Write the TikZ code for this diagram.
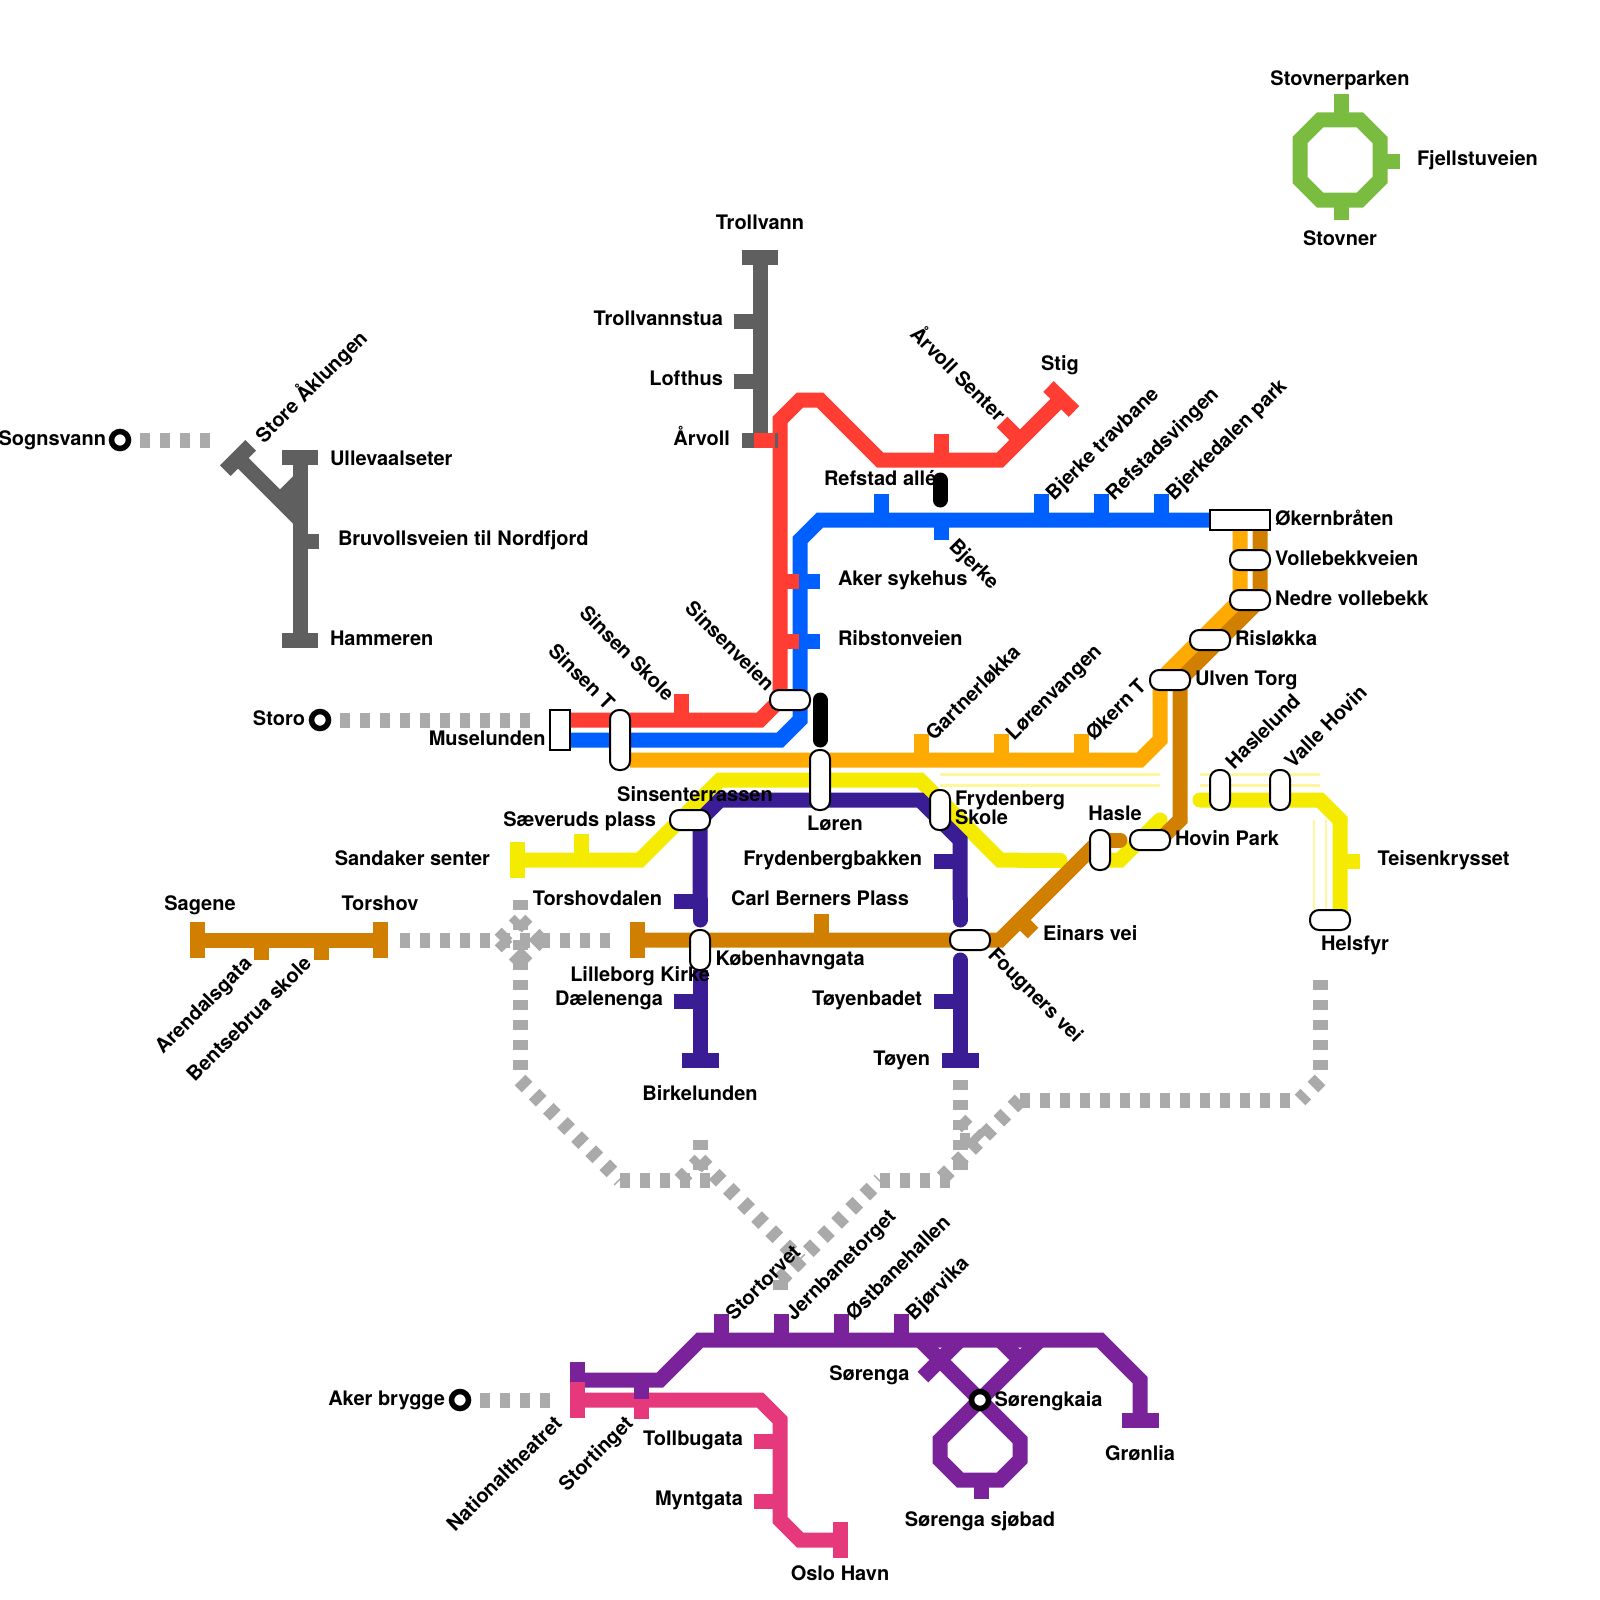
\documentclass[tikz,border=0pt]{standalone}
\usepackage{fontspec}
\setmainfont{TeX Gyre Heros}
\definecolor{lineRed}{RGB}{255,61,50}
\definecolor{lineBlue}{RGB}{0,96,255}
\definecolor{lineAmber}{RGB}{255,170,0}
\definecolor{lineBrown}{RGB}{209,127,0}
\definecolor{lineYellow}{RGB}{245,235,0}
\definecolor{linePale}{RGB}{255,247,160}
\definecolor{lineIndigo}{RGB}{58,28,149}
\definecolor{linePurple}{RGB}{122,34,153}
\definecolor{linePink}{RGB}{230,57,124}
\definecolor{lineGreen}{RGB}{122,188,64}
\definecolor{lineDark}{RGB}{95,95,95}
\definecolor{lineWalk}{RGB}{170,170,170}
\tikzset{
  % every line of the network; the colour goes on top of it
  route/.style={line width=15pt, line join=miter},
  roundroute/.style={route, line cap=round},
  walk/.style={draw=lineWalk, line width=15pt, dash pattern=on 10pt off 10pt},
  pale/.style={draw=linePale, line width=2.5pt},
  % station labels, placed by their baseline
  stn/.style={font=\fontsize{20}{19.5}\selectfont\bfseries, inner sep=0pt, outer sep=0pt, text=black, yshift=-1pt},
  stnw/.style={stn, anchor=base west, xshift=-1pt},
  stne/.style={stn, anchor=base east, xshift=1pt},
  stnc/.style={stn, anchor=base},
  % interchange boxes
  stopbox/.style={draw=black, fill=white, line width=2pt, inner sep=0pt, rounded corners=9pt},
  stoprect/.style={draw=black, fill=white, line width=2pt, inner sep=0pt},
  wide/.style={minimum width=40pt, minimum height=20pt},
  tall/.style={minimum width=20pt, minimum height=40pt},
  taller/.style={minimum width=20pt, minimum height=60pt},
  ring/.style={circle, draw=black, fill=white, line width=5.5pt, inner sep=0pt, minimum size=17pt},
}
\begin{document}
\begin{tikzpicture}[x=1pt, y=-1pt]
\useasboundingbox (0,0) rectangle (1600,1600);
\fill[white] (0,0) rectangle (1600,1600);

% --- walking links ---
\coordinate (sognA) at (140,440);  \coordinate (sognB) at (210,440);
\coordinate (storoA) at (340,720); \coordinate (storoB) at (530,720);
\coordinate (akerA) at (480,1400); \coordinate (akerB) at (550,1400);
\coordinate (crossW) at (500,940); \coordinate (crossE) at (540,940);
\coordinate (crossN) at (520,920); \coordinate (crossS) at (520,960);
\coordinate (bendA) at (700,1160); \coordinate (bendB) at (780,1280);
\coordinate (bendC) at (800,1260); \coordinate (bendD) at (880,1180);
\coordinate (bendE) at (1020,1100);
\draw[walk] (sognA) -- (sognB);
\draw[walk] (storoA) -- (storoB);
\draw[walk] (akerA) -- (akerB);
\draw[walk] (400,940) -- (610,940);
\draw[walk] (crossW) -- (crossN);
\draw[walk] (crossW) -- (crossS);
\draw[walk] (crossN) -- (crossE);
\draw[walk] (crossS) -- (crossE);
\draw[walk] (520,900) -- (520,1080);
\draw[walk] (520,1080) -- (620,1180);
\draw[walk] (620,1180) -- (710,1180);
\draw[walk] (700,1140) -- (700,1170);
\draw[walk] (680,1180) -- (bendA);
\draw[walk] (bendA) -- (bendC);
\draw[walk] (bendC) -- (bendB);
\draw[walk] (bendB) -- (bendD);
\draw[walk] (bendB) -- (780,1290);
\draw[walk] (bendD) -- (950,1180);
\draw[walk] (960,1080) -- (960,1170);
\draw[walk] (960,1120) -- (980,1140);
\draw[walk] (960,1140) -- (970,1140);
\draw[walk] (bendE) -- (940,1180);
\draw[walk] (bendE) -- (1300,1100);
\draw[walk] (1320,1080) -- (1300,1100);
\draw[walk] (1320,980) -- (1320,1080);

% --- pale guide lines ---
\draw[pale] (940,774.5) -- (1160,774.5);
\draw[pale] (940,785.5) -- (1160,785.5);
\draw[pale] (1200,774.5) -- (1320,774.5);
\draw[pale] (1200,785.5) -- (1320,785.5);
\draw[pale] (1314,820) -- (1314,910);
\draw[pale] (1326,820) -- (1326,910);

% --- green ring ---
\draw[route, draw=lineGreen] (1320,120) -- (1360,120) -- (1380,140) -- (1380,180) -- (1360,200)
      -- (1320,200) -- (1300,180) -- (1300,140) -- cycle;
\draw[route, draw=lineGreen] (1341,120) -- (1341,94);
\draw[route, draw=lineGreen] (1341,200) -- (1341,219.5);
\draw[route, draw=lineGreen] (1380,161) -- (1400,161);

% --- dark grey lines ---
\draw[route, draw=lineDark] (282,457.5) -- (318,457.5);
\draw[route, draw=lineDark] (282,640) -- (318,640);
\draw[route, draw=lineDark] (300,457.5) -- (300,640);
\draw[route, draw=lineDark] (300,541) -- (319,541);
\draw[route, draw=lineDark] (238,458) -- (300,520);
\draw[route, draw=lineDark] (300,480) -- (280,500);
\draw[route, draw=lineDark] (300,495) -- (285,510);
\draw[route, draw=lineDark] (225.3,470.7) -- (250.7,445.3);

% --- blue ---
\draw[route, draw=lineBlue] (570,740) -- (780,740) -- (800,720) -- (800,540) -- (820,520) -- (1210,520);
\foreach \x in {880,1040,1100,1160}
  \draw[route, draw=lineBlue] (\x+1,520) -- (\x+1,494);
\draw[route, draw=lineBlue] (941,520) -- (941,540);
\foreach \y in {580,640}
  \draw[route, draw=lineBlue] (800,\y+1) -- (820,\y+1);

% --- red ---
\draw[route, draw=lineRed] (570,720) -- (760,720) -- (780,700) -- (780,420) -- (800,400) -- (820,400)
      -- (880,460) -- (1000,460) -- (1061,399);
\draw[route, draw=lineRed] (681,720) -- (681,694);
\draw[route, draw=lineRed] (941,460) -- (941,434);
\draw[route, draw=lineRed] (1020,440) -- (1002,422);
\draw[route, draw=lineRed] (1048.5,386.5) -- (1074,411.5);
\foreach \y in {580,640}
  \draw[route, draw=lineRed] (780,\y+1) -- (799,\y+1);

% --- grey line to the north ---
\draw[route, draw=lineDark] (742,257.5) -- (778,257.5);
\draw[route, draw=lineDark] (760,257.5) -- (760,440);
\draw[route, draw=lineDark] (742,440) -- (778,440);
\foreach \y in {320,380}
  \draw[route, draw=lineDark] (734,\y+1) -- (760,\y+1);
\draw[route, draw=lineRed] (754,440) -- (775,440);

% --- amber and brown ---
\draw[route, draw=lineAmber] (1240,530) -- (1240,600) -- (1160,680) -- (1160,740) -- (1140,760) -- (630,760);
\foreach \x in {920,1000,1080}
  \draw[route, draw=lineAmber] (\x+1,760) -- (\x+1,734);

\draw[route, draw=lineYellow] (517.5,842) -- (517.5,878);
\draw[route, draw=lineYellow] (517.5,860) -- (640,860) -- (720,780) -- (920,780) -- (1000,860) -- (1020,860);
\draw[roundroute, draw=lineYellow] (1020,860) -- (1060,860);
\draw[route, draw=lineYellow] (581,860) -- (581,834);
\draw[roundroute, draw=lineYellow] (1110,860) -- (1120,860) -- (1160,820);
\draw[roundroute, draw=lineYellow] (1200,800) -- (1320,800) -- (1340,820);
\draw[route, draw=lineYellow] (1320,800) -- (1340,820) -- (1340,920);
\draw[route, draw=lineYellow] (1340,861) -- (1360,861);

\draw[route, draw=lineBrown] (1260,530) -- (1260,600) -- (1180,680) -- (1180,820) -- (1160,840);
\draw[route, draw=lineBrown] (1110,840) -- (1100,840) -- (1000,940) -- (637.5,940);
\draw[roundroute, draw=lineBrown] (1105,840) -- (1120,840);
\draw[route, draw=lineBrown] (637.5,922) -- (637.5,958);
\draw[route, draw=lineBrown] (821,940) -- (821,914);
\draw[route, draw=lineBrown] (1020,920) -- (1033,933);
\draw[route, draw=lineBrown] (197.5,940) -- (380,940);
\draw[route, draw=lineBrown] (197.5,922) -- (197.5,958);
\draw[route, draw=lineBrown] (380.5,922) -- (380.5,958);
\foreach \x in {260,320}
  \draw[route, draw=lineBrown] (\x+1,940) -- (\x+1,960);

% --- indigo ---
\draw[route, draw=lineIndigo] (700,900) -- (700,820) -- (720,800) -- (920,800) -- (960,840) -- (960,900);
\draw[roundroute, draw=lineIndigo] (700,900) -- (700,920);
\draw[roundroute, draw=lineIndigo] (960,900) -- (960,920);
\draw[route, draw=lineIndigo] (700,970) -- (700,1060);
\draw[route, draw=lineIndigo] (960,980) -- (960,1060);
\draw[roundroute, draw=lineIndigo] (960,960) -- (960,980);
\draw[route, draw=lineIndigo] (681.5,1060) -- (718.5,1060);
\draw[route, draw=lineIndigo] (941.5,1060) -- (978.5,1060);
\draw[route, draw=lineIndigo] (934,861) -- (960,861);
\draw[route, draw=lineIndigo] (674,901) -- (700,901);
\draw[route, draw=lineIndigo] (674,1001) -- (700,1001);
\draw[route, draw=lineIndigo] (934,1001) -- (960,1001);

% --- purple ---
\draw[route, draw=linePurple] (577.5,1362) -- (577.5,1398);
\draw[route, draw=linePurple] (577.5,1380) -- (660,1380) -- (700,1340) -- (1100,1340) -- (1140,1380) -- (1140,1420);
\draw[route, draw=linePurple] (1121.5,1420) -- (1158.5,1420);
\foreach \x in {720,780,840,900}
  \draw[route, draw=linePurple] (\x+1,1340) -- (\x+1,1314);
\draw[route, draw=linePurple] (920,1340) -- (1020,1440) -- (1020,1460) -- (1000,1480) -- (960,1480)
      -- (940,1460) -- (940,1440) -- (1040,1340);
\draw[route, draw=linePurple] (960,1340) -- (923,1377);
\draw[route, draw=linePurple] (1000,1340) -- (1020,1360);
\draw[route, draw=linePurple] (981,1480) -- (981,1499);

% --- pink ---
\draw[route, draw=linePink] (577.5,1382) -- (577.5,1418);
\draw[route, draw=linePink] (577.5,1400) -- (760,1400) -- (780,1420) -- (780,1520) -- (800,1540) -- (840.5,1540);
\draw[route, draw=linePink] (840.5,1522) -- (840.5,1558);
\draw[route, draw=linePink] (641,1400) -- (641,1419);
\draw[route, draw=linePink] (754,1441) -- (780,1441);
\draw[route, draw=linePink] (754,1501) -- (780,1501);
\draw[route, draw=linePurple] (641,1380) -- (641,1399);

% --- black links ---
\draw[roundroute, draw=black] (940,480) -- (940,500);
\draw[roundroute, draw=black] (820,700) -- (820,740);

% --- interchange boxes and rings ---
\node[stoprect, tall] (museBox) at (560,730) {};
\node[stoprect, minimum width=60pt, minimum height=20pt] (okernBox) at (1240,520) {};
\node[stopbox, taller] (sinsenT) at (620,740) {};
\node[stopbox, wide] (sinsenveien) at (790,700) {};
\node[stopbox, taller] (loren) at (820,780) {};
\node[stopbox, wide] (sinsenterr) at (690,820) {};
\node[stopbox, tall] (frydenberg) at (940,810) {};
\node[stopbox, tall] (kobenhavn) at (700,950) {};
\node[stopbox, wide] (fougners) at (970,940) {};
\node[stopbox, wide] (volle) at (1250,560) {};
\node[stopbox, wide] (nedre) at (1250,600) {};
\node[stopbox, wide] (rislokka) at (1210,640) {};
\node[stopbox, wide] (ulven) at (1170,680) {};
\node[stopbox, tall] (hasle) at (1100,850) {};
\node[stopbox, wide] (hovin) at (1150,840) {};
\node[stopbox, tall] (haslelund) at (1220,790) {};
\node[stopbox, tall] (valle) at (1280,790) {};
\node[stopbox, wide] (helsfyr) at (1330,920) {};
\node[ring] (sognRing) at (120,440) {};
\node[ring] (storoRing) at (320,720) {};
\node[ring] (akerRing) at (460,1400) {};
\node[ring] (sorengRing) at (980,1400) {};

% --- labels, top right and north ---
\node[stnc] (lStovnerparken) at (1340,84.5) {Stovnerparken};
\node[stnw] (lFjell) at (1418,164.5) {Fjellstuveien};
\node[stnc] (lStovner) at (1340,244.5) {Stovner};
\node[stnc] (lTrollvann) at (760,228.5) {Trollvann};
\node[stne] (lTrollstua) at (722,324.5) {Trollvannstua};
\node[stne] (lLofthus) at (722,384.5) {Lofthus};
\node[stne] (lArvoll) at (729,444.5) {Årvoll};
\node[stn, anchor=base, rotate=-45] (lArvollS) at (953,378) {Årvoll Senter};
\node[stnc] (lStig) at (1060,369) {Stig};
\node[stn, anchor=base west, rotate=45] (lAklungen) at (264,443) {Store Åklungen};
\node[stne] (lSogn) at (105,444.5) {Sognsvann};
\node[stnw] (lUlle) at (331,464.5) {Ullevaalseter};
\node[stnw] (lBruv) at (339,544.5) {Bruvollsveien til Nordfjord};
\node[stnw] (lHamm) at (331,644.5) {Hammeren};

% --- labels, blue and red ---
\node[stnw] (lRefstad) at (825,484.5) {Refstad allé};
\node[stn, anchor=base west, rotate=45] (lBjTrav) at (1054,500) {Bjerke travbane};
\node[stn, anchor=base west, rotate=45] (lRefsv) at (1114,500) {Refstadsvingen};
\node[stn, anchor=base west, rotate=45] (lBjPark) at (1174,500) {Bjerkedalen park};
\node[stn, anchor=base west, rotate=-45] (lBjerke) at (948,546) {Bjerke};
\node[stnw] (lAker) at (839,584.5) {Aker sykehus};
\node[stnw] (lRib) at (839,644.5) {Ribstonveien};
\node[stn, anchor=base east, rotate=-45] (lSinsenS) at (666,701) {Sinsen Skole};
\node[stn, anchor=base east, rotate=-45] (lSinsenV) at (766,691) {Sinsenveien};
\node[stn, anchor=base east, rotate=-45] (lSinsenT) at (606,710) {Sinsen T};
\node[stne] (lStoro) at (304,724.5) {Storo};
\node[stne] (lMuse) at (544.5,744.5) {Muselunden};

% --- labels, amber and brown ---
\node[stnw] (lOkern) at (1276,524.5) {Økernbråten};
\node[stnw] (lVolle) at (1276,564.5) {Vollebekkveien};
\node[stnw] (lNedre) at (1276,604.5) {Nedre vollebekk};
\node[stnw] (lRis) at (1236,644.5) {Risløkka};
\node[stnw] (lUlven) at (1196,684.5) {Ulven Torg};
\node[stn, anchor=base west, rotate=45] (lGart) at (934,740) {Gartnerløkka};
\node[stn, anchor=base west, rotate=45] (lLoren) at (1014,740) {Lørenvangen};
\node[stn, anchor=base west, rotate=45] (lOkernT) at (1094,740) {Økern T};
\node[stn, anchor=base west, rotate=45] (lHaslelund) at (1234,769) {Haslelund};
\node[stn, anchor=base west, rotate=45] (lValle) at (1293,768) {Valle Hovin};
\node[stnw] (lHovin) at (1176,844.5) {Hovin Park};
\node[stnc] (lHasle) at (1115,819.5) {Hasle};
\node[stnw] (lEinars) at (1044,939) {Einars vei};
\node[stnc] (lHelsfyr) at (1355,949) {Helsfyr};
\node[stnw] (lTeisen) at (1378.5,864.5) {Teisenkrysset};
\node[stn, anchor=base west, rotate=-45] (lFougners) at (987,955) {Fougners vei};
\node[stnc] (lSagene) at (200,909) {Sagene};
\node[stnc] (lTorshov) at (380,909) {Torshov};
\node[stn, anchor=base east, rotate=45] (lArendal) at (253,964) {Arendalsgata};
\node[stn, anchor=base east, rotate=45] (lBentse) at (312.5,964) {Bentsebrua skole};

% --- labels, yellow and indigo ---
\node[stnc] (lSinsenterr) at (695,800) {Sinsenterrassen};
\node[stne] (lSaev) at (655,825) {Sæveruds plass};
\node[stne] (lSandaker) at (489,864.5) {Sandaker senter};
\node[stnc] (lLoeren) at (835,829) {Løren};
\node[stnw, align=left] (lFryd) at (956,823.5) {Frydenberg\\Skole};
\node[stne] (lFrydb) at (921,864.5) {Frydenbergbakken};
\node[stne] (lTorsh) at (661,904.5) {Torshovdalen};
\node[stnc] (lCarl) at (820,904.5) {Carl Berners Plass};
\node[stnw] (lKob) at (716.5,964.5) {Københavngata};
\node[stne] (lLille) at (709,980) {Lilleborg Kirke};
\node[stne] (lDaele) at (662,1004.5) {Dælenenga};
\node[stne] (lToyenb) at (921,1004.5) {Tøyenbadet};
\node[stne] (lToyen) at (929,1064.5) {Tøyen};
\node[stnc] (lBirke) at (700,1099.5) {Birkelunden};

% --- labels, harbour ---
\node[stn, anchor=base west, rotate=45] (lStortorvet) at (734,1320) {Stortorvet};
\node[stn, anchor=base west, rotate=45] (lJern) at (794,1320) {Jernbanetorget};
\node[stn, anchor=base west, rotate=45] (lOstb) at (854,1320) {Østbanehallen};
\node[stn, anchor=base west, rotate=45] (lBjor) at (914,1320) {Bjørvika};
\node[stne] (lSoren) at (908.5,1379.5) {Sørenga};
\node[stnw] (lSorengk) at (995.5,1405) {Sørengkaia};
\node[stnc] (lSjobad) at (980,1525) {Sørenga sjøbad};
\node[stnc] (lGron) at (1140,1459) {Grønlia};
\node[stne] (lAkerb) at (444,1404.5) {Aker brygge};
\node[stn, anchor=base east, rotate=45] (lNatio) at (563,1424) {Nationaltheatret};
\node[stn, anchor=base east, rotate=45] (lStorting) at (634,1424) {Stortinget};
\node[stne] (lToll) at (742,1444.5) {Tollbugata};
\node[stne] (lMynt) at (742,1504.5) {Myntgata};
\node[stnc] (lOslo) at (840,1579) {Oslo Havn};
\end{tikzpicture}
\end{document}
